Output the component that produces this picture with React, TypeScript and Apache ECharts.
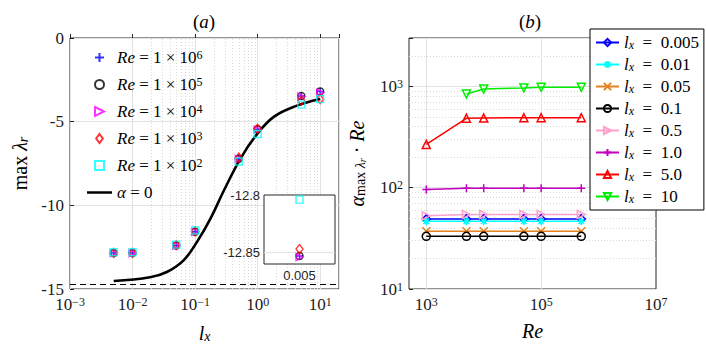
import React, { useEffect, useRef } from 'react';
import * as echarts from 'echarts';

// ---------- panel (a) data ----------
const lxValues = [0.005, 0.01, 0.05, 0.1, 0.5, 1, 5, 10];
const maxLamRe1e6 = [-12.853, -12.853, -12.4, -11.58, -7.22, -5.45, -3.47, -3.2];
const maxLamRe1e5 = [-12.853, -12.853, -12.4, -11.58, -7.22, -5.45, -3.47, -3.2];
const maxLamRe1e4 = [-12.854, -12.854, -12.4, -11.58, -7.22, -5.48, -3.5, -3.27];
const maxLamRe1e3 = [-12.847, -12.847, -12.38, -11.55, -7.15, -5.42, -3.75, -3.65];
const maxLamRe1e2 = [-12.804, -12.804, -12.35, -11.5, -7.38, -5.74, -3.98, -3.65];
const alphaZeroLx = [0.005, 0.019, 0.036, 0.066, 0.108, 0.177, 0.29, 0.535, 1.0, 1.83, 3.85, 10];
const alphaZeroVals = [-14.52, -14.3, -13.97, -13.27, -12.17, -10.78, -9.1, -7.19, -5.7, -4.7, -4.1, -3.65];
const dashedLevel = -14.7;

// ---------- panel (b) data ----------
const reValues = [1e3, 5e3, 1e4, 5e4, 1e5, 5e5];
const alphaLx0005 = [49.2, 49.2, 49.2, 49.2, 49.2, 49.2];
const alphaLx001 = [46.6, 46.6, 46.6, 46.6, 46.6, 46.6];
const alphaLx005 = [37.1, 37.1, 37.1, 37.1, 37.1, 37.1];
const alphaLx01 = [33.1, 33.1, 33.1, 33.1, 33.1, 33.1];
const alphaLx05 = [52.7, 54.3, 54.3, 54.3, 54.3, 54.3];
const alphaLx1 = [96, 98.5, 98.5, 98.5, 98.5, 98.5];
const alphaLx5 = [267, 484, 487, 490, 490, 490];
const alphaLx10 = [null, 840, 942, 965, 977, 977];
const lxLegendLabels = ['0.005', '0.01', '0.05', '0.1', '0.5', '1.0', '5.0', '10'];
const reLegendExp = ['6', '5', '4', '3', '2'];

const SERIF = 'Liberation Serif';
const SANS = 'Liberation Sans';
const AX = '#262626';
const GRID = '#e2e2e2';
const MINOR = '#dadada';

const PLUS = 'path://M0,-1L0,1M-1,0L1,0';
const STAR = 'path://M0,-1L0,1M-1,0L1,0M-0.7,-0.7L0.7,0.7M-0.7,0.7L0.7,-0.7';
const CROSS = 'path://M-1,-1L1,1M-1,1L1,-1';
const TRI_R = 'path://M-1,-1L1,0L-1,1Z';
const TRI_U = 'path://M0,-1L1,1L-1,1Z';
const TRI_D = 'path://M-1,-1L1,-1L0,1Z';
const DIAM = 'path://M0,-1.35L1,0L0,1.35L-1,0Z';
const SQUARE = 'path://M-1,-1L1,-1L1,1L-1,1Z';
const CIRCLE = 'path://M1,0A1,1,0,1,1,-1,0A1,1,0,1,1,1,0Z';

function rich(size: number, color = '#000') {
  const s = Math.round(size * 0.7);
  return {
    n: { fontFamily: SERIF, fontSize: size, color },
    it: { fontFamily: SERIF, fontSize: size, fontStyle: 'italic', color },
    sup: { fontFamily: SERIF, fontSize: s, verticalAlign: 'top', color },
    sub: { fontFamily: SERIF, fontSize: s, fontStyle: 'italic', verticalAlign: 'bottom', color },
    subn: { fontFamily: SERIF, fontSize: s, verticalAlign: 'bottom', color },
    subsub: { fontFamily: SERIF, fontSize: Math.round(size * 0.5), fontStyle: 'italic', verticalAlign: 'bottom', color },
  };
}

const powLabel = (keep: (e: number) => boolean) => (v: number) => {
  const l = Math.log10(v);
  const e = Math.round(l);
  if (Math.abs(l - e) > 1e-6 || !keep(e)) return '';
  return `{n|10}{sup|${e < 0 ? '−' + -e : e}}`;
};

const minorMultipliers = [2, 3, 4, 5, 6, 7, 8, 9];
const decadesA = [0.001, 0.01, 0.1, 1];
const decadesB = [10, 100, 1000];

export default function App() {
  const ref = useRef<HTMLDivElement>(null);
  useEffect(() => {
    if (!ref.current) return;
    const chart = echarts.init(ref.current, undefined, { renderer: 'svg' });

    const reSeries = [
      { name: 'Re1e6', vals: maxLamRe1e6, color: '#0000ff', symbol: PLUS },
      { name: 'Re1e5', vals: maxLamRe1e5, color: '#000000', symbol: CIRCLE },
      { name: 'Re1e4', vals: maxLamRe1e4, color: '#ff00ff', symbol: TRI_R },
      { name: 'Re1e3', vals: maxLamRe1e3, color: '#ff0000', symbol: DIAM },
      { name: 'Re1e2', vals: maxLamRe1e2, color: '#00ffff', symbol: SQUARE },
    ];
    const lxSeries = [
      { vals: alphaLx0005, color: '#0000ff', symbol: DIAM },
      { vals: alphaLx001, color: '#00ffff', symbol: STAR },
      { vals: alphaLx005, color: '#e5821f', symbol: CROSS },
      { vals: alphaLx01, color: '#000000', symbol: CIRCLE },
      { vals: alphaLx05, color: '#ff9fcc', symbol: TRI_R },
      { vals: alphaLx1, color: '#bf00bf', symbol: PLUS },
      { vals: alphaLx5, color: '#ff0000', symbol: TRI_U },
      { vals: alphaLx10, color: '#00ee00', symbol: TRI_D },
    ];

    const minorA: number[] = [];
    decadesA.forEach((d) => minorMultipliers.forEach((k) => minorA.push(+(d * k).toPrecision(3))));
    const minorB: number[] = [];
    decadesB.forEach((d) => minorMultipliers.forEach((k) => { const v = d * k; if (v < 3000) minorB.push(v); }));

    const series: any[] = [];
    reSeries.forEach((s, i) => {
      series.push({
        type: 'scatter', name: s.name, xAxisIndex: 0, yAxisIndex: 0,
        data: lxValues.map((x, j) => [x, s.vals[j]]),
        symbol: s.symbol, symbolSize: s.symbol === DIAM ? [7, 9] : 7,
        itemStyle: { color: 'rgba(0,0,0,0)', borderColor: s.color, borderWidth: 1.4 },
        z: 3,
        markLine: i === 0 ? {
          silent: true, symbol: ['none', 'none'], label: { show: false }, z: 1,
          lineStyle: { color: MINOR, type: [1, 2], width: 1 },
          data: minorA.map((v) => ({ xAxis: v })),
        } : undefined,
      });
    });
    series.push({
      type: 'line', name: 'alpha0', xAxisIndex: 0, yAxisIndex: 0,
      data: alphaZeroLx.map((x, j) => [x, alphaZeroVals[j]]),
      smooth: 0.4, showSymbol: false, symbol: 'none',
      lineStyle: { color: '#000', width: 2.6 }, itemStyle: { color: '#000' }, z: 2,
      markLine: {
        silent: true, symbol: ['none', 'none'], label: { show: false }, z: 2,
        lineStyle: { color: '#000', type: [6, 4], width: 1.1 },
        data: [{ yAxis: dashedLevel }],
      },
    });
    reSeries.forEach((s, i) => {
      series.push({
        type: 'scatter', name: 'inset' + s.name, xAxisIndex: 2, yAxisIndex: 2,
        data: [[lxValues[0], s.vals[0]]],
        symbol: s.symbol, symbolSize: s.symbol === DIAM ? [7, 9] : 7,
        itemStyle: { color: 'rgba(0,0,0,0)', borderColor: s.color, borderWidth: 1.4 },
        z: 12,
        markLine: i === 0 ? {
          silent: true, symbol: ['none', 'none'], label: { show: false }, z: 11,
          lineStyle: { color: GRID, type: 'solid', width: 1 },
          data: [{ xAxis: lxValues[0] }, { yAxis: -12.85 }],
        } : undefined,
      });
    });
    lxSeries.forEach((s, i) => {
      const data = reValues.map((r, j) => [r, s.vals[j]]).filter((p) => p[1] != null);
      series.push({
        type: 'line', name: 'lx' + lxLegendLabels[i], xAxisIndex: 1, yAxisIndex: 1,
        data, symbol: s.symbol, symbolSize: 8, showSymbol: true,
        lineStyle: { color: s.color, width: 1.5 },
        itemStyle: { color: 'rgba(0,0,0,0)', borderColor: s.color, borderWidth: 1.5 },
        z: 3,
        markLine: i === 0 ? {
          silent: true, symbol: ['none', 'none'], label: { show: false }, z: 1,
          data: [
            ...minorB.map((v) => ({ yAxis: v, lineStyle: { color: MINOR, type: [1, 2], width: 1 } })),
            { xAxis: 1e3, lineStyle: { color: GRID, type: 'solid', width: 1 } },
            { xAxis: 1e5, lineStyle: { color: GRID, type: 'solid', width: 1 } },
          ],
        } : undefined,
      });
    });

    const legendALabels: Record<string, string> = { alpha0: '{it|α}{n| = 0}' };
    reSeries.forEach((s, i) => { legendALabels[s.name] = `{it|Re}{n| = 1 × 10}{sup|${reLegendExp[i]}}`; });

    const option: any = {
      animation: false,
      backgroundColor: '#fff',
      graphic: [
        { type: 'text', x: 204, y: 12, style: { text: '{n|(}{it|a}{n|)}', textAlign: 'center', rich: rich(19) } },
        { type: 'text', x: 530, y: 12, style: { text: '{n|(}{it|b}{n|)}', textAlign: 'center', rich: rich(19) } },
      ],
      grid: [
        { left: 70, top: 38, width: 269, height: 251, show: true, borderColor: AX, borderWidth: 1, backgroundColor: '#fff' },
        { left: 409, top: 38, width: 247, height: 251, show: true, borderColor: AX, borderWidth: 1, backgroundColor: '#fff' },
        { left: 264, top: 195, width: 71, height: 69, show: true, borderColor: AX, borderWidth: 1, backgroundColor: '#fff', z: 10 },
      ],
      xAxis: [
        {
          gridIndex: 0, type: 'log', logBase: 10, min: 0.001, max: 20,
          axisLine: { show: false }, axisTick: { inside: true, length: 4, lineStyle: { color: AX } },
          splitLine: { show: true, lineStyle: { color: GRID } },
          axisLabel: { formatter: powLabel(() => true), margin: 7, rich: rich(17, '#1a1a1a') },
          name: '{it|l}{sub|x}', nameLocation: 'middle', nameGap: 34, nameTextStyle: { rich: rich(20) },
        },
        {
          gridIndex: 1, type: 'log', logBase: 10, min: 500, max: 1e7,
          axisLine: { show: false }, axisTick: { show: false },
          splitLine: { show: false },
          axisLabel: { formatter: powLabel((e) => e % 2 === 1), margin: 7, rich: rich(17, '#1a1a1a') },
          name: '{it|Re}', nameLocation: 'middle', nameGap: 32, nameTextStyle: { rich: rich(20) },
        },
        {
          gridIndex: 2, type: 'value', min: 0.004, max: 0.006, interval: 0.001, z: 11,
          axisLine: { show: false }, axisTick: { show: false }, splitLine: { show: false },
          axisLabel: {
            margin: 5, fontFamily: SANS, fontSize: 13, color: '#262626',
            formatter: (v: number) => (Math.abs(v - 0.005) < 1e-9 ? '0.005' : ''),
          },
        },
      ],
      yAxis: [
        {
          gridIndex: 0, type: 'value', min: -15, max: 0, interval: 5,
          axisLine: { show: false }, axisTick: { inside: true, length: 4, lineStyle: { color: AX } },
          splitLine: { show: true, lineStyle: { color: GRID } },
          axisLabel: { margin: 6, fontFamily: SERIF, fontSize: 17, color: '#1a1a1a', formatter: (v: number) => String(v) },
          name: '{n|max }{it|λ}{sub|r}', nameLocation: 'middle', nameGap: 40, nameRotate: 90,
          nameTextStyle: { rich: rich(20) },
        },
        {
          gridIndex: 1, type: 'log', logBase: 10, min: 10, max: 3000,
          axisLine: { show: false }, axisTick: { inside: true, length: 4, lineStyle: { color: AX } },
          splitLine: { show: true, lineStyle: { color: GRID } },
          axisLabel: { formatter: powLabel(() => true), margin: 6, rich: rich(17, '#1a1a1a') },
          name: '{it|α}{subn|max }{sub|λ}{subsub|r}{n| · }{it|Re}', nameLocation: 'middle', nameGap: 42, nameRotate: 90,
          nameTextStyle: { rich: rich(20) },
        },
        {
          gridIndex: 2, type: 'value', min: -12.86, max: -12.8, interval: 0.01, z: 11,
          axisLine: { show: false }, axisTick: { show: false }, splitLine: { show: false },
          axisLabel: {
            margin: 4, fontFamily: SANS, fontSize: 13, color: '#262626',
            formatter: (v: number) => (Math.abs(v + 12.8) < 1e-6 ? '-12.8' : Math.abs(v + 12.85) < 1e-6 ? '-12.85' : ''),
          },
        },
      ],
      legend: [
        {
          data: [...reSeries.map((s) => s.name), { name: 'alpha0', icon: 'path://M0,0L20,0L20,2L0,2Z' }],
          orient: 'vertical', left: 82, top: 44, itemWidth: 25, itemHeight: 9, itemGap: 10,
          selectedMode: false, formatter: (n: string) => legendALabels[n],
          textStyle: { fontFamily: SERIF, fontSize: 17, color: '#000', rich: rich(17) },
        },
        {
          data: lxSeries.map((_, i) => 'lx' + lxLegendLabels[i]),
          orient: 'vertical', left: 590, top: 29, padding: [5, 5, 5, 5], itemWidth: 23, itemHeight: 9, itemGap: 5,
          backgroundColor: '#fff', borderColor: '#000', borderWidth: 1, z: 20,
          selectedMode: false, formatter: (n: string) => `{it|l}{sub|x}{n|\u2002=\u2002${n.slice(2)}}`,
          textStyle: { fontFamily: SERIF, fontSize: 17, color: '#000', rich: rich(17) },
        },
      ],
      series,
    };
    chart.setOption(option);
    return () => chart.dispose();
  }, []);
  return <div ref={ref} style={{ position: 'absolute', left: 0, top: 0, width: 706, height: 349 }} />;
}
